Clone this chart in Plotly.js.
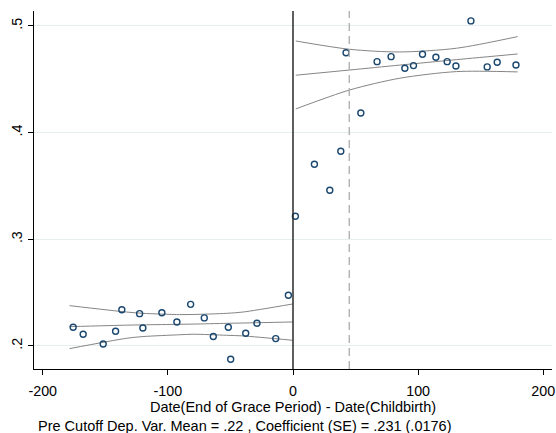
<!DOCTYPE html>
<html>
<head>
<meta charset="utf-8">
<script src="https://cdn.plot.ly/plotly-3.0.1.min.js"></script>
<style>
  html, body { margin: 0; padding: 0; background: #ffffff; }
  #grafica { width: 556px; height: 433px; }
</style>
</head>
<body>
<div id="grafica"></div>
<script>
// binned means, left of the cutoff
const xIzq = [-175.7, -167.7, -151.7, -141.8, -136.8, -122.6, -120.0, -104.8, -92.8,
  -81.8, -70.9, -63.7, -51.7, -49.8, -37.8, -28.8, -13.8, -3.7];
const yIzq = [0.2175, 0.2110, 0.2019, 0.2138, 0.2340, 0.2303, 0.2169, 0.2312, 0.2225,
  0.2390, 0.2263, 0.2088, 0.2175, 0.1875, 0.2119, 0.2213, 0.2069, 0.2475];

// binned means, right of the cutoff
const xDer = [1.9, 17.1, 29.4, 38.2, 42.4, 54.2, 67.2, 78.4, 89.4, 96.3,
  103.5, 114.2, 123.2, 130.2, 142.2, 155.2, 163.2, 178.2];
const yDer = [0.3216, 0.3703, 0.3460, 0.3825, 0.4749, 0.4184, 0.4665, 0.4712, 0.4603, 0.4628,
  0.4735, 0.4706, 0.4665, 0.4625, 0.5047, 0.4616, 0.4660, 0.4634];

// fitted line and confidence bands
const xAjusteIzq = [-178.6, -133, -120, -90.6, -80, -53, -40, 0];
const ajusteIzq = [0.2181, 0.2195, 0.2198, 0.2203, 0.2205, 0.2212, 0.2215, 0.2225];
const superiorIzq = [0.2378, 0.2318, 0.2306, 0.2294, 0.2295, 0.2306, 0.2318, 0.2394];
const inferiorIzq = [0.1975, 0.2072, 0.2088, 0.2105, 0.2110, 0.2100, 0.2094, 0.2053];

const xAjusteDer = [2.2, 45.4, 85.4, 130.7, 179.5];
const ajusteDer = [0.4538, 0.4587, 0.4633, 0.4684, 0.4737];
const superiorDer = [0.4859, 0.4781, 0.4756, 0.4791, 0.4900];
const inferiorDer = [0.4222, 0.4400, 0.4510, 0.4572, 0.4569];

const CORTE = 0;
const FIN_GRACIA = 45;

const ticksX = [-200, -100, 0, 100, 200];
const etiquetasX = ['-200', '-100', '0', '100', '200'];
const ticksY = [0.2, 0.3, 0.4, 0.5];
const etiquetasY = ['.2', '.3', '.4', '.5'];

const tituloX = 'Date(End of Grace Period) - Date(Childbirth)';
const nota = 'Pre Cutoff Dep. Var. Mean = .22 , Coefficient (SE) = .231 (.0176)';

const colorPunto = '#1a476f';
const colorAjuste = '#858585';

function linea(x, y) {
  return {
    x: x,
    y: y,
    type: 'scatter',
    mode: 'lines',
    line: { color: colorAjuste, width: 1, shape: 'spline', smoothing: 0.8 },
    hoverinfo: 'skip'
  };
}

function puntos(x, y) {
  return {
    x: x,
    y: y,
    type: 'scatter',
    mode: 'markers',
    marker: {
      symbol: 'circle-open',
      size: 6,
      color: colorPunto,
      line: { color: colorPunto, width: 1.4 }
    }
  };
}

const trazas = [
  linea(xAjusteIzq, superiorIzq),
  linea(xAjusteIzq, ajusteIzq),
  linea(xAjusteIzq, inferiorIzq),
  linea(xAjusteDer, superiorDer),
  linea(xAjusteDer, ajusteDer),
  linea(xAjusteDer, inferiorDer),
  puntos(xIzq, yIzq),
  puntos(xDer, yDer)
];

const fuente = { family: 'Liberation Sans, Arial, sans-serif', color: '#000000', size: 14 };

const layout = {
  width: 556,
  height: 433,
  showlegend: false,
  paper_bgcolor: '#ffffff',
  plot_bgcolor: '#ffffff',
  font: fuente,
  margin: { l: 34, r: 4, t: 11, b: 64 },
  xaxis: {
    range: [-207, 207],
    tickvals: ticksX,
    ticktext: etiquetasX,
    ticks: 'outside',
    ticklen: 5,
    tickcolor: '#000000',
    ticklabelstandoff: 4,
    showline: true,
    linecolor: '#000000',
    linewidth: 1,
    showgrid: false,
    zeroline: false,
    tickfont: { size: 14.3 },
    title: { text: tituloX, font: { size: 14.5 }, standoff: 2 }
  },
  yaxis: {
    range: [0.1784, 0.514],
    tickvals: ticksY,
    ticktext: etiquetasY,
    tickangle: -90,
    ticks: 'outside',
    ticklen: 5,
    tickcolor: '#000000',
    showline: true,
    linecolor: '#000000',
    linewidth: 1,
    showgrid: true,
    gridcolor: '#e6eef0',
    gridwidth: 1,
    zeroline: false,
    tickfont: { size: 14.3 }
  },
  shapes: [
    {
      type: 'line', xref: 'x', yref: 'paper',
      x0: CORTE, x1: CORTE, y0: 0, y1: 1,
      line: { color: '#2a2a2a', width: 1.5 }
    },
    {
      type: 'line', xref: 'x', yref: 'paper',
      x0: FIN_GRACIA, x1: FIN_GRACIA, y0: 0, y1: 1,
      line: { color: '#b4b4b4', width: 1.5, dash: '8px,5px' }
    }
  ],
  annotations: [
    {
      text: nota,
      xref: 'paper', yref: 'paper',
      x: 0.003, y: -0.1606,
      xanchor: 'left', yanchor: 'middle',
      showarrow: false,
      font: { size: 14.5 }
    }
  ]
};

Plotly.newPlot('grafica', trazas, layout, { staticPlot: true, displayModeBar: false });
</script>
</body>
</html>
